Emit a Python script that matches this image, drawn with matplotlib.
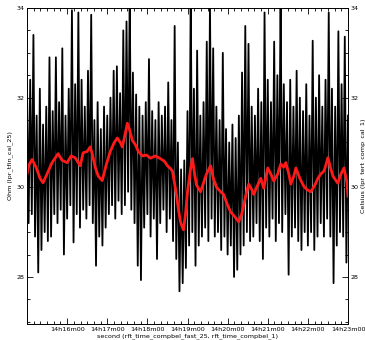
import numpy as np
import matplotlib
matplotlib.use("Agg")
import matplotlib.pyplot as plt
from matplotlib.ticker import FixedLocator, MultipleLocator, FuncFormatter

# fast resistance signal: alternating upper / lower excursions, 2.4 s apart
ohm_high = [32.3, 32.4, 33.4, 31.6, 32.2, 31.4, 31.8, 32.9, 31.7, 32.9,
            31.9, 33.1, 31.6, 32.2, 33.95, 32.3, 33.9, 32.4, 31.8, 32.6,
            33.85, 31.5, 31.9, 31.3, 31.8, 31.6, 32.0, 32.6, 32.7, 32.1,
            33.5, 33.7, 34.3, 32.56, 32.07, 31.8, 31.6, 31.9, 32.86, 31.7,
            31.5, 31.9, 31.6, 31.8, 32.34, 31.5, 33.6, 31.0, 30.4, 30.6,
            31.7, 34.3, 32.2, 33.05, 31.6, 31.9, 33.25, 34.1, 33.1, 31.8,
            31.5, 33.0, 31.3, 31.0, 31.4, 31.1, 31.6, 32.56, 33.6, 33.2,
            31.8, 31.6, 32.2, 31.9, 33.9, 32.4, 31.9, 33.25, 32.5, 34.3,
            32.3, 31.9, 32.4, 31.8, 32.6, 32.0, 31.7, 32.3, 31.6, 33.27,
            32.0, 32.5, 31.8, 32.4, 33.9, 32.2, 31.8, 33.48, 32.3, 33.36,
            31.6]
ohm_low = [29.2, 29.4, 28.9, 28.1, 28.6, 29.0, 28.8, 28.9, 29.4, 29.2,
           29.5, 28.5, 29.3, 29.6, 28.77, 29.4, 29.1, 29.5, 29.3, 29.6,
           29.2, 28.25, 28.9, 28.7, 29.1, 29.4, 29.6, 29.3, 29.7, 29.4,
           29.6, 29.9, 29.5, 29.2, 28.25, 27.93, 29.1, 29.4, 28.9, 29.3,
           28.4, 29.2, 29.5, 29.0, 29.3, 28.8, 28.4, 27.68, 27.86, 28.2,
           28.7, 29.0, 28.25, 28.7, 28.9, 29.1, 28.8, 29.3, 28.9, 29.0,
           28.6, 28.9, 28.5, 28.7, 28.0, 28.16, 28.5, 28.7, 29.0, 28.8,
           28.9, 29.2, 28.8, 28.4, 29.1, 28.9, 29.3, 28.8, 29.2, 29.0,
           29.4, 28.05, 28.9, 29.1, 28.8, 28.6, 29.0, 28.7, 29.0, 28.6,
           28.9, 29.2, 28.9, 29.3, 28.9, 27.86, 28.7, 29.0, 28.9, 28.32]

# slow temperature, seconds after 14h15m00
temp_sec = [0, 3, 7.5, 13.5, 19.5, 24, 30, 37.5, 46.5, 52.5, 60, 66, 72, 79.5,
            84, 90, 94.5, 97.5, 102, 106.5, 112.5, 118.5, 124.5, 130.5, 135,
            139.5, 142.5, 147, 150, 153, 157.5, 162, 166.5, 172.5, 178.5,
            184.5, 192, 199.5, 205.5, 210, 214.5, 217.5, 220.5, 223.5, 226.5,
            229.5, 232.5, 234, 237, 240, 244.5, 247.5, 250.5, 253.5, 259.5,
            264, 268.5, 274.5, 279, 283.5, 289.5, 294, 300, 304.5, 310.5,
            316.5, 321, 324, 328.5, 331.5, 336, 339, 343.5, 349.5, 354, 357,
            360, 364.5, 369, 375, 379.5, 384, 387, 391.5, 394.5, 399, 402,
            408, 414, 418.5, 424.5, 430.5, 435, 439.5, 444, 447, 450, 454.5,
            457.5, 462, 465, 469.5, 474, 478.5, 480]
temp_val = [30.3, 30.5, 30.62, 30.45, 30.2, 30.1, 30.3, 30.55, 30.75, 30.6,
            30.55, 30.7, 30.66, 30.48, 30.77, 30.8, 30.9, 30.75, 30.45, 30.25,
            30.15, 30.5, 30.8, 31.0, 31.1, 31.0, 30.9, 31.2, 31.43, 31.3,
            31.05, 30.95, 30.8, 30.7, 30.72, 30.65, 30.7, 30.64, 30.58, 30.48,
            30.42, 30.36, 30.1, 29.84, 29.5, 29.23, 29.1, 29.05, 29.4, 29.9,
            30.4, 30.64, 30.3, 30.05, 29.9, 30.1, 30.3, 30.48, 30.18, 30.0,
            29.9, 29.84, 29.6, 29.45, 29.35, 29.23, 29.4, 29.6, 29.9, 30.07,
            29.95, 29.84, 30.0, 30.2, 29.98, 30.2, 30.43, 30.3, 30.14, 30.3,
            30.52, 30.45, 30.55, 30.3, 30.07, 30.25, 30.43, 30.2, 30.02, 29.95,
            29.9, 30.05, 30.2, 30.3, 30.36, 30.5, 30.66, 30.4, 30.25, 30.15,
            30.09, 30.3, 30.43, 30.1, 29.8]

ohm_val = np.empty(len(ohm_high) + len(ohm_low))
ohm_val[0::2] = ohm_high
ohm_val[1::2] = ohm_low
ohm_sec = np.linspace(0, 480, len(ohm_val))

plt.rcParams['font.family'] = 'DejaVu Sans'
plt.rcParams['font.size'] = 4.6

fig = plt.figure(figsize=(3.65, 3.40), dpi=100)
ax = fig.add_axes([27 / 365, 16 / 340, 321 / 365, 316 / 340])
ax2 = ax.twinx()

ax.plot(ohm_sec, ohm_val, color='black', lw=1.3)
ax2.plot(temp_sec, temp_val, color='#ff1a1a', lw=2.0)

ax.set_xlim(0, 480)
ax.set_ylim(26.95, 34)
ax2.set_ylim(26.95, 34)

ax.xaxis.set_major_locator(FixedLocator(range(60, 481, 60)))
ax.xaxis.set_minor_locator(MultipleLocator(10))
ax.xaxis.set_major_formatter(FuncFormatter(lambda v, p: "14h%dm00" % (15 + int(round(v)) // 60)))
for a in (ax, ax2):
    a.yaxis.set_major_locator(MultipleLocator(2))
    a.yaxis.set_minor_locator(MultipleLocator(0.5))
    a.yaxis.set_major_formatter(FuncFormatter(lambda v, p: "%d" % v))
    a.tick_params(which='both', direction='in', labelsize=4.6, pad=2, width=0.6)
    a.tick_params(which='major', length=4)
    a.tick_params(which='minor', length=2.5)
ax.tick_params(which='both', top=True)

ax.set_xlabel("second (rft_time_compbel_fast_25, rft_time_compbel_1)", fontsize=4.6, labelpad=1)
ax.set_ylabel("Ohm (lpr_tfin_cal_25)", fontsize=4.6, labelpad=2)
ax2.set_ylabel("Celsius (lpr_tert_comp_cal_1)", fontsize=4.6, labelpad=1)
for a in (ax, ax2):
    for s in a.spines.values():
        s.set_linewidth(0.6)

fig.savefig("out.png", dpi=100)
